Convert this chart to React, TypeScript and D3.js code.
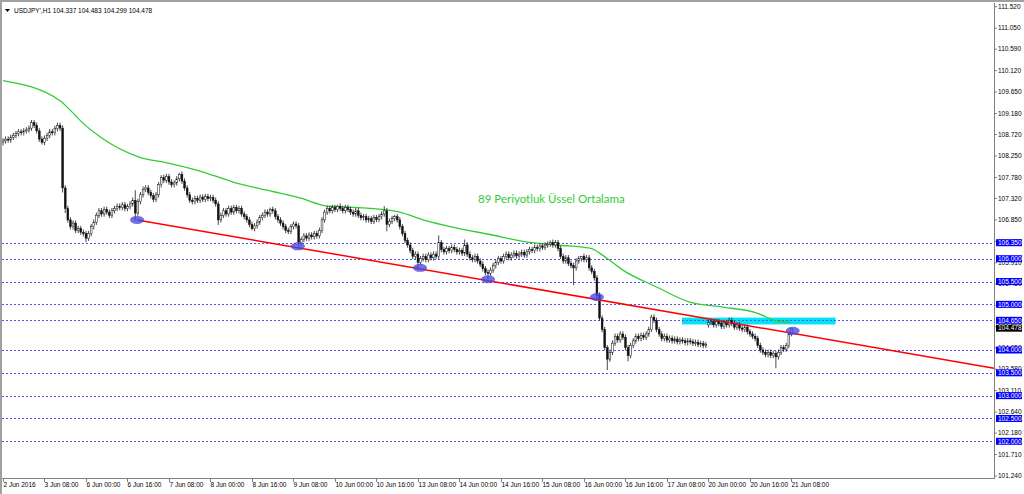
import React from "react";
import * as d3 from "d3";

const W = 1024;
const H = 494;

// Hourly closes, USDJPY H1, from 2 Jun 16:00 to 21 Jun 08:00
const closes: number[] = [
  108.58, 108.62, 108.6, 108.66, 108.7, 108.74, 108.78, 108.76, 108.8, 108.82,
  108.86, 108.98, 108.92, 108.8, 108.62, 108.55, 108.64, 108.7, 108.78, 108.76,
  108.85, 108.92, 108.86, 107.55, 107.1, 106.85, 106.7, 106.78, 106.62, 106.66,
  106.58, 106.55, 106.45, 106.55, 106.7, 106.8, 106.95, 107.05, 106.98, 107.08,
  107.02, 106.95, 107.05, 107.1, 107.15, 107.12, 107.18, 107.1, 107.14, 107.2,
  107.28, 107.0, 107.25, 107.4, 107.52, 107.55, 107.45, 107.38, 107.3, 107.4,
  107.62, 107.78, 107.72, 107.8, 107.68, 107.62, 107.66, 107.75, 107.85, 107.7,
  107.55, 107.4, 107.28, 107.25, 107.32, 107.28, 107.35, 107.3, 107.36, 107.32,
  107.34, 107.28, 107.2, 106.85, 106.95, 107.05, 106.98, 107.1, 107.02, 107.12,
  107.05, 107.1, 106.98, 106.92, 106.85, 106.75, 106.66, 106.72, 106.8, 106.9,
  106.95, 107.02, 106.98, 107.08, 107.05, 106.92, 106.85, 106.78, 106.7, 106.62,
  106.6, 106.7, 106.76, 106.72, 106.35, 106.42, 106.5, 106.45, 106.52, 106.48,
  106.55, 106.5, 106.62, 106.85, 107.02, 107.1, 107.05, 107.12, 107.08, 107.15,
  107.1, 107.05, 107.12, 107.08, 107.02, 106.98, 107.05, 106.95, 106.9, 106.92,
  106.85, 106.88, 106.82, 106.9, 106.86, 106.92, 106.98, 107.05, 106.75, 106.82,
  106.88, 106.92, 106.85, 106.7, 106.55, 106.4, 106.3, 106.18, 106.05, 106.1,
  105.92, 106.0, 106.05, 105.98, 106.08, 106.02, 106.1, 106.05, 106.35, 106.2,
  106.15, 106.22, 106.18, 106.25, 106.2, 106.15, 106.18, 106.12, 106.3, 106.1,
  106.02, 105.98, 106.05, 105.95, 105.88, 105.78, 105.7, 105.68, 105.75, 105.85,
  105.92, 106.0, 105.95, 106.05, 106.1, 106.02, 106.08, 106.12, 106.06, 106.1,
  106.14, 106.08, 106.15, 106.2, 106.18, 106.25, 106.22, 106.28, 106.25, 106.3,
  106.32, 106.36, 106.3, 106.35, 106.22, 106.05, 105.95, 106.02, 105.9, 105.85,
  105.8, 105.95, 106.0, 106.05, 105.98, 106.02, 105.8, 105.72, 105.58, 105.2,
  104.7, 104.45, 104.05, 103.8, 103.95, 104.15, 104.3, 104.22, 104.35, 104.28,
  104.05, 103.88, 104.1, 104.2, 104.3, 104.25, 104.32, 104.28, 104.35, 104.45,
  104.72, 104.65, 104.45, 104.35, 104.25, 104.3, 104.22, 104.26, 104.2, 104.24,
  104.18, 104.22, 104.2, 104.16, 104.2, 104.18, 104.15, 104.17, 104.12, 104.14,
  104.1, 104.12, 104.6, 104.62, 104.55, 104.62, 104.58, 104.52, 104.6, 104.55,
  104.65, 104.58, 104.5, 104.55, 104.48, 104.45, 104.5, 104.4, 104.35, 104.3,
  104.25, 104.1, 104.0, 103.95, 103.9, 103.95, 103.88, 103.92, 103.85, 103.95,
  104.05, 104.02, 104.1, 104.337, 104.478,
];

// Opens that differ from the previous close (weekend gap)
const gapOpens: [number, number][] = [[272, 104.55]];

// Notable highs and lows (bar index, price)
const highMarks: [number, number][] = [
  [11, 109.04], [21, 108.98], [51, 107.5], [54, 107.58], [61, 107.83], [68, 107.88],
  [103, 107.12], [129, 107.18], [147, 107.15], [151, 106.96], [168, 106.51],
  [178, 106.42], [211, 106.4], [223, 106.06], [250, 104.77], [304, 104.483],
];
const lowMarks: [number, number][] = [
  [15, 108.5], [23, 107.45], [24, 107.0], [32, 106.36], [51, 106.84], [83, 106.74],
  [96, 106.62], [114, 106.26], [148, 106.6], [160, 105.8], [187, 105.55],
  [220, 105.42], [229, 105.1], [233, 103.56], [241, 103.75], [298, 103.6], [304, 104.299],
];

// 89-period EMA read at anchor points (bar index, price)
const emaPoints: [number, number][] = [
  [0, 109.9], [22, 109.46], [25.8, 109.26], [30.8, 108.97], [37.4, 108.67],
  [52.8, 108.22], [63.2, 108.1], [76, 107.92], [88.7, 107.68], [101.8, 107.5],
  [114.5, 107.33], [125, 107.15], [140.3, 107.11], [153, 107.02], [162, 106.85],
  [175, 106.67], [187.7, 106.53], [200.5, 106.38], [213.6, 106.3], [226.3, 106.23],
  [232.8, 106.01], [239, 105.75], [252, 105.38], [264.8, 105.05], [277.6, 104.94],
  [290.7, 104.81], [298.4, 104.63], [303.4, 104.6],
];

// Trend line (bar index, price) and touch points
const trendLine: [number, number][] = [[51.7, 106.85], [382.1, 103.6]];
const touchPoints: [number, number][] = [
  [51.7, 106.85], [113.7, 106.27], [160.8, 105.8], [187, 105.55], [229, 105.16], [304.5, 104.42],
];

// Resistance zone (bar from, bar to, price low, price high)
const zoneBars = [261.8, 321];
const zonePrices = [104.56, 104.71];

const levelLines = [106.35, 106.0, 105.5, 105.0, 104.65, 104.0, 103.5, 103.0, 102.5, 102.0];
const yTickLabels = [
  "111.520", "111.050", "110.590", "110.120", "109.650", "109.180", "108.720", "108.250",
  "107.780", "107.320", "106.850", "106.380", "105.910", "105.450", "104.980", "104.510",
  "104.050", "103.580", "103.110", "102.640", "102.180", "101.710", "101.240",
];
const dateLabels = [
  "2 Jun 2016", "3 Jun 08:00", "6 Jun 00:00", "6 Jun 16:00", "7 Jun 08:00", "8 Jun 00:00",
  "8 Jun 16:00", "9 Jun 08:00", "10 Jun 00:00", "10 Jun 16:00", "13 Jun 08:00", "14 Jun 00:00",
  "14 Jun 16:00", "15 Jun 08:00", "16 Jun 00:00", "16 Jun 16:00", "17 Jun 08:00", "20 Jun 00:00",
  "20 Jun 16:00", "21 Jun 08:00",
];
const lastPrice = 104.478;
const titleText = "USDJPY',H1  104.337 104.483 104.299 104.478";
const annotation = "89 Periyotluk Üssel Ortalama";

export default function App() {
  const plotL = 2, plotR = 994, plotT = 3, plotB = 478;
  const x = d3.scaleLinear().domain([0, 382.1]).range([3, 994]);
  const y = d3.scaleLinear().domain([101.24, 111.52]).range([476, 6.7]);
  const font = "'Liberation Sans', Arial, sans-serif";

  const hiMap = new Map(highMarks);
  const loMap = new Map(lowMarks);
  const gapMap = new Map(gapOpens);
  const candles = closes.map((c, i) => {
    const o = gapMap.has(i) ? gapMap.get(i)! : i === 0 ? c - 0.04 : closes[i - 1];
    const hi = hiMap.has(i) ? hiMap.get(i)! : Math.max(o, c) + 0.06;
    const lo = loMap.has(i) ? loMap.get(i)! : Math.min(o, c) - 0.06;
    return { i, o, c, hi, lo };
  });

  const emaLine = d3
    .line<[number, number]>()
    .x((d) => x(d[0]))
    .y((d) => y(d[1]))
    .curve(d3.curveMonotoneX)(emaPoints);

  const trendPath = d3
    .line<[number, number]>()
    .x((d) => x(d[0]))
    .y((d) => y(d[1]))(trendLine);

  return (
    <svg
      width={W}
      height={H}
      style={{ position: "fixed", left: 0, top: 0, background: "#fff" }}
      fontFamily={font}
    >
      <defs>
        <clipPath id="plot">
          <rect x={plotL} y={plotT} width={plotR - plotL} height={plotB - plotT} />
        </clipPath>
      </defs>
      <rect x={0} y={0} width={W} height={H} fill="#fff" />
      {/* window border */}
      <line x1={0} y1={1} x2={W} y2={1} stroke="#a0a0a0" strokeWidth={2} />
      <line x1={1} y1={0} x2={1} y2={H} stroke="#a0a0a0" strokeWidth={2} />

      <g clipPath="url(#plot)">
        {/* resistance zone */}
        <rect
          x={x(zoneBars[0])}
          y={y(zonePrices[1])}
          width={x(zoneBars[1]) - x(zoneBars[0])}
          height={y(zonePrices[0]) - y(zonePrices[1])}
          fill="#00e5f5"
        />
        {/* dotted level lines */}
        {levelLines.map((v) => (
          <line
            key={v}
            x1={plotL}
            x2={plotR}
            y1={Math.round(y(v)) + 0.5}
            y2={Math.round(y(v)) + 0.5}
            stroke="#5050f0"
            strokeWidth={1}
            strokeDasharray="2,2"
          />
        ))}
        {/* EMA */}
        <path d={emaLine || ""} fill="none" stroke="#33cc33" strokeWidth={1.3} />
        {/* candles */}
        {candles.map((d) => {
          const cx = x(d.i);
          const top = y(Math.max(d.o, d.c));
          const bot = y(Math.min(d.o, d.c));
          const bull = d.c >= d.o;
          return (
            <g key={d.i}>
              <line x1={cx} x2={cx} y1={y(d.hi)} y2={y(d.lo)} stroke="#1a1a1a" strokeWidth={0.8} />
              <rect
                x={cx - 0.9}
                y={top}
                width={1.8}
                height={Math.max(1, bot - top)}
                fill={bull ? "#fff" : "#111"}
                stroke="#111"
                strokeWidth={0.5}
              />
            </g>
          );
        })}
        {/* trend line */}
        <path d={trendPath || ""} fill="none" stroke="#ff0000" strokeWidth={1.5} />
        {/* touch points */}
        {touchPoints.map((p, k) => (
          <ellipse key={k} cx={x(p[0])} cy={y(p[1])} rx={7} ry={4} fill="rgba(70,70,225,0.78)" />
        ))}
        <text x={478} y={203} fill="#33cc33" fontSize={11.5} fontFamily="Lato, 'Open Sans', sans-serif">
          {annotation}
        </text>
      </g>

      {/* axes */}
      <line x1={plotR + 0.5} x2={plotR + 0.5} y1={plotT} y2={plotB + 1} stroke="#808080" />
      <line x1={plotL} x2={plotR + 1} y1={plotB + 0.5} y2={plotB + 0.5} stroke="#808080" />

      {/* y ticks */}
      {yTickLabels.map((t) => {
        const yy = y(parseFloat(t));
        return (
          <g key={t}>
            <line x1={plotR} x2={plotR + 3} y1={yy} y2={yy} stroke="#808080" />
            <text x={998} y={yy + 2.3} fontSize={6.5} fill="#000">
              {t}
            </text>
          </g>
        );
      })}
      {/* level boxes */}
      {levelLines.map((v) => {
        const yy = y(v);
        return (
          <g key={"b" + v}>
            <rect x={996} y={yy - 3.5} width={26} height={7} fill="#0000ff" />
            <text x={998} y={yy + 2.3} fontSize={6.5} fill="#fff">
              {v.toFixed(3)}
            </text>
          </g>
        );
      })}
      {/* last price */}
      <g>
        <rect x={996} y={y(lastPrice) - 3.5} width={26} height={7} fill="#000" />
        <text x={998} y={y(lastPrice) + 2.3} fontSize={6.5} fill="#fff">
          {lastPrice.toFixed(3)}
        </text>
      </g>

      {/* x ticks */}
      {dateLabels.map((t, k) => {
        const xx = Math.round(x(k * 16)) + 0.5;
        return (
          <g key={t}>
            <line x1={xx} x2={xx} y1={plotB} y2={plotB + 4} stroke="#808080" />
            <text x={xx} y={487} fontSize={6.5} fill="#000">
              {t}
            </text>
          </g>
        );
      })}

      {/* title */}
      <polygon points="5,9 10,9 7.5,12" fill="#000" />
      <text x={14} y={13} fontSize={6.5} fill="#000">
        {titleText}
      </text>
    </svg>
  );
}
